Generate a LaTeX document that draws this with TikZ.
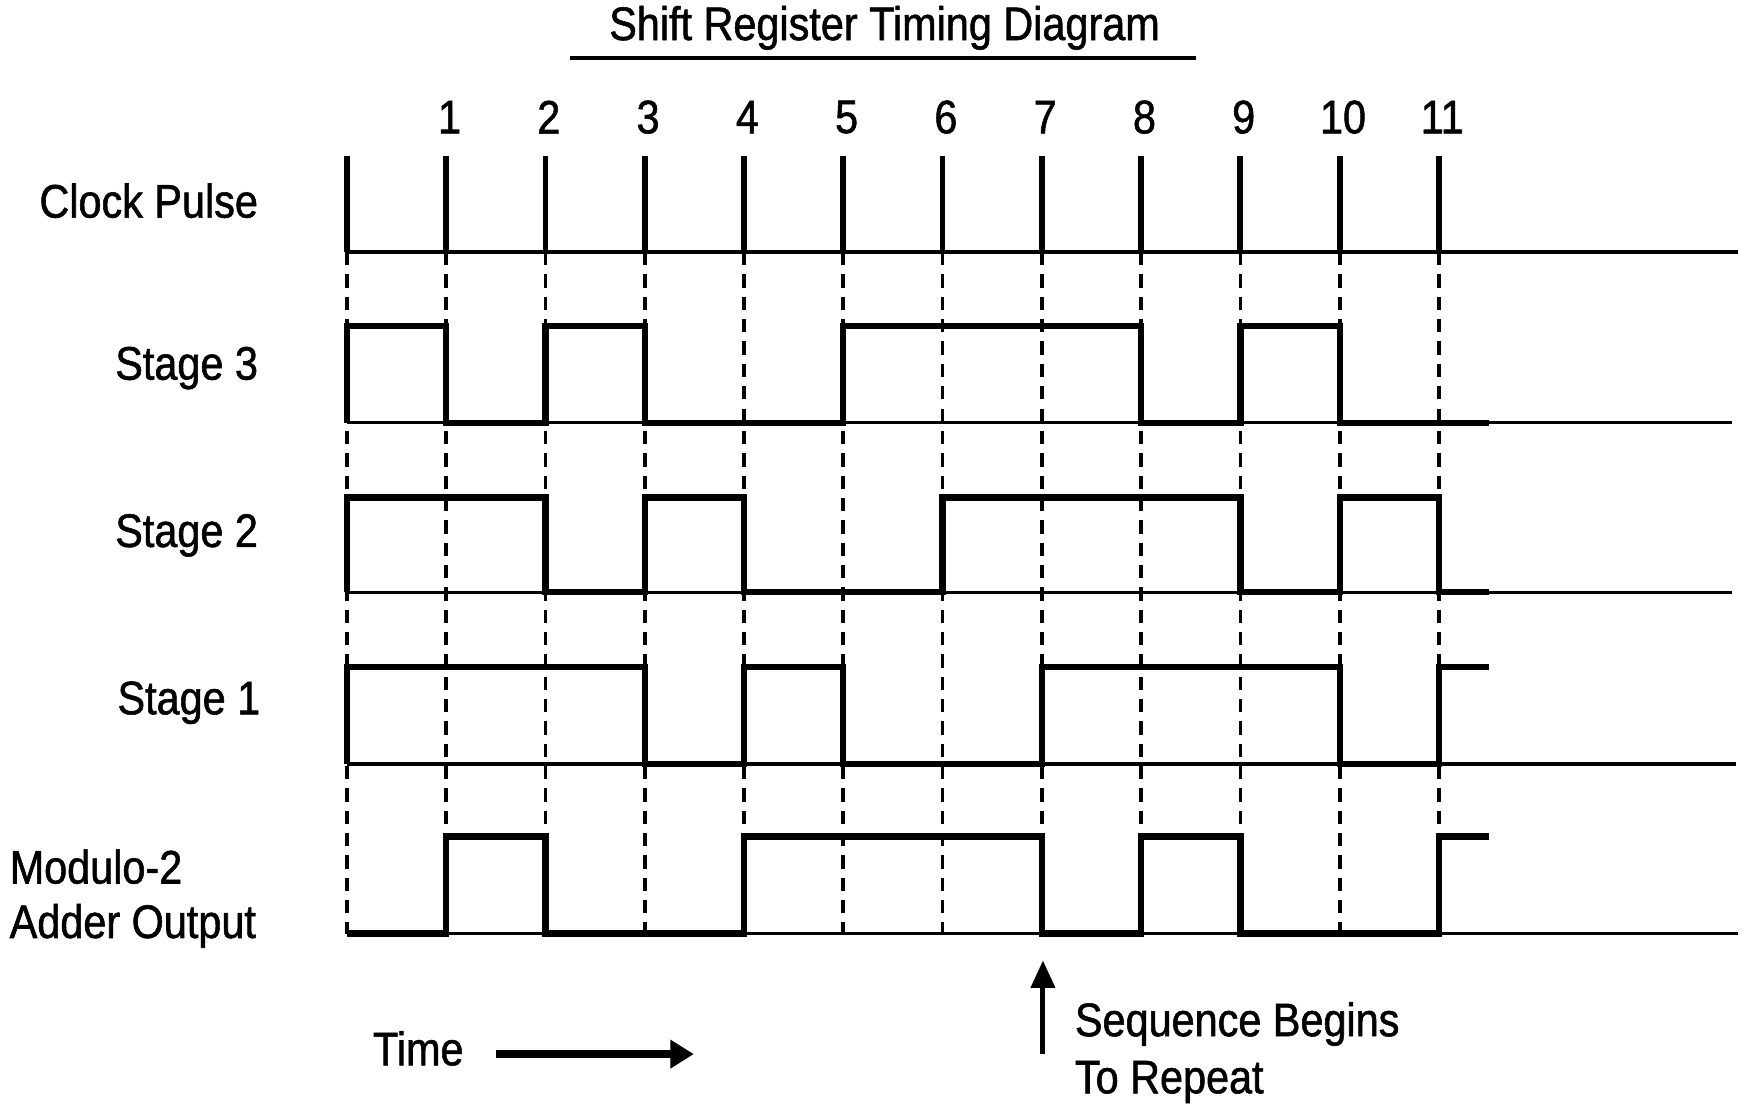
\documentclass[tikz,border=0pt]{standalone}
\usepackage{fontspec}
\setmainfont{Liberation Sans}[FakeStretch=0.88, FakeBold=1.2]
\usepackage{tikz}
\usetikzlibrary{arrows.meta}
\tikzset{
   wave/.style={line width=1.6pt, line join=miter},
   base/.style={line width=0.85pt},
   guide/.style={line width=0.95pt, dash pattern=on 3.4pt off 2.3pt},
   clocktick/.style={line width=1.5pt},
   lbl/.style={font=\fontsize{12}{14}\selectfont, inner sep=0pt},
}

\begin{document}
\begin{tikzpicture}
    \useasboundingbox (0,0) rectangle (15.68,10.04);

    % title
    \node[lbl] (title) at (7.93,9.79) {Shift Register Timing Diagram};
    \draw[line width=0.9pt] (5.11,9.52) -- (10.72,9.52);

    % row labels
    \node[lbl, anchor=east] (clk) at (2.32,8.24) {Clock Pulse};
    \node[lbl, anchor=east] (s3) at (2.32,6.74) {Stage 3};
    \node[lbl, anchor=east] (s2) at (2.32,5.24) {Stage 2};
    \node[lbl, anchor=east] (s1) at (2.34,3.74) {Stage 1};
    \node[lbl, anchor=west] (mod) at (0.08,2.27) {Modulo-2};
    \node[lbl, anchor=west] (add) at (0.08,1.74) {Adder Output};

    % baselines
    \draw[base] (3.11,7.78) -- (15.58,7.78);
    \draw[base] (3.11,6.25) -- (15.53,6.25);
    \draw[base] (3.11,4.73) -- (15.53,4.73);
    \draw[base] (3.11,3.19) -- (15.56,3.19);
    \draw[base] (3.11,1.67) -- (15.58,1.67);

    % clock ticks, numbers and guides
    \foreach \i in {0,...,11}{
      \draw[clocktick] (3.11+0.89*\i,7.78) -- (3.11+0.89*\i,8.64);
      \draw[guide] (3.11+0.89*\i,7.78) -- (3.11+0.89*\i,1.67);
    }
    \foreach \i in {1,...,11}
      \node[lbl] (n\i) at (3.11+0.89*\i+0.03,8.99) {\i};

    % waveforms
    \begin{scope}[xshift=3.11cm, x=0.89cm]
      \draw[wave] (0,6.25) -- (0,7.12) -- (1,7.12) -- (1,6.25) -- (2,6.25) -- (2,7.12) -- (3,7.12) -- (3,6.25)
        -- (5,6.25) -- (5,7.12) -- (8,7.12) -- (8,6.25) -- (9,6.25) -- (9,7.12) -- (10,7.12) -- (10,6.25) -- (11.5,6.25);
      \draw[wave] (0,4.73) -- (0,5.58) -- (2,5.58) -- (2,4.73) -- (3,4.73) -- (3,5.58) -- (4,5.58) -- (4,4.73)
        -- (6,4.73) -- (6,5.58) -- (9,5.58) -- (9,4.73) -- (10,4.73) -- (10,5.58) -- (11,5.58) -- (11,4.73) -- (11.5,4.73);
      \draw[wave] (0,3.19) -- (0,4.06) -- (3,4.06) -- (3,3.19) -- (4,3.19) -- (4,4.06) -- (5,4.06) -- (5,3.19)
        -- (7,3.19) -- (7,4.06) -- (10,4.06) -- (10,3.19) -- (11,3.19) -- (11,4.06) -- (11.5,4.06);
      \draw[wave] (0,1.67) -- (1,1.67) -- (1,2.54) -- (2,2.54) -- (2,1.67) -- (4,1.67) -- (4,2.54) -- (7,2.54)
        -- (7,1.67) -- (8,1.67) -- (8,2.54) -- (9,2.54) -- (9,1.67) -- (11,1.67) -- (11,2.54) -- (11.5,2.54);
    \end{scope}

    % time arrow
    \node[lbl] (time) at (3.75,0.64) {Time};
    \coordinate (t0) at (4.45,0.59);
    \coordinate (t1) at (6.22,0.59);
    \draw[line width=1.9pt, -{Triangle[length=6pt, width=7pt]}] (t0) -- (t1);

    % repeat marker
    \coordinate (r0) at (9.35,0.59);
    \coordinate (r1) at (9.35,1.43);
    \draw[line width=1.3pt, -{Triangle[length=7pt, width=6pt]}] (r0) -- (r1);
    \node[lbl, anchor=west] (seq) at (9.63,0.86) {Sequence Begins};
    \node[lbl, anchor=west] (rep) at (9.63,0.34) {To Repeat};

  \end{tikzpicture}
\end{document}
